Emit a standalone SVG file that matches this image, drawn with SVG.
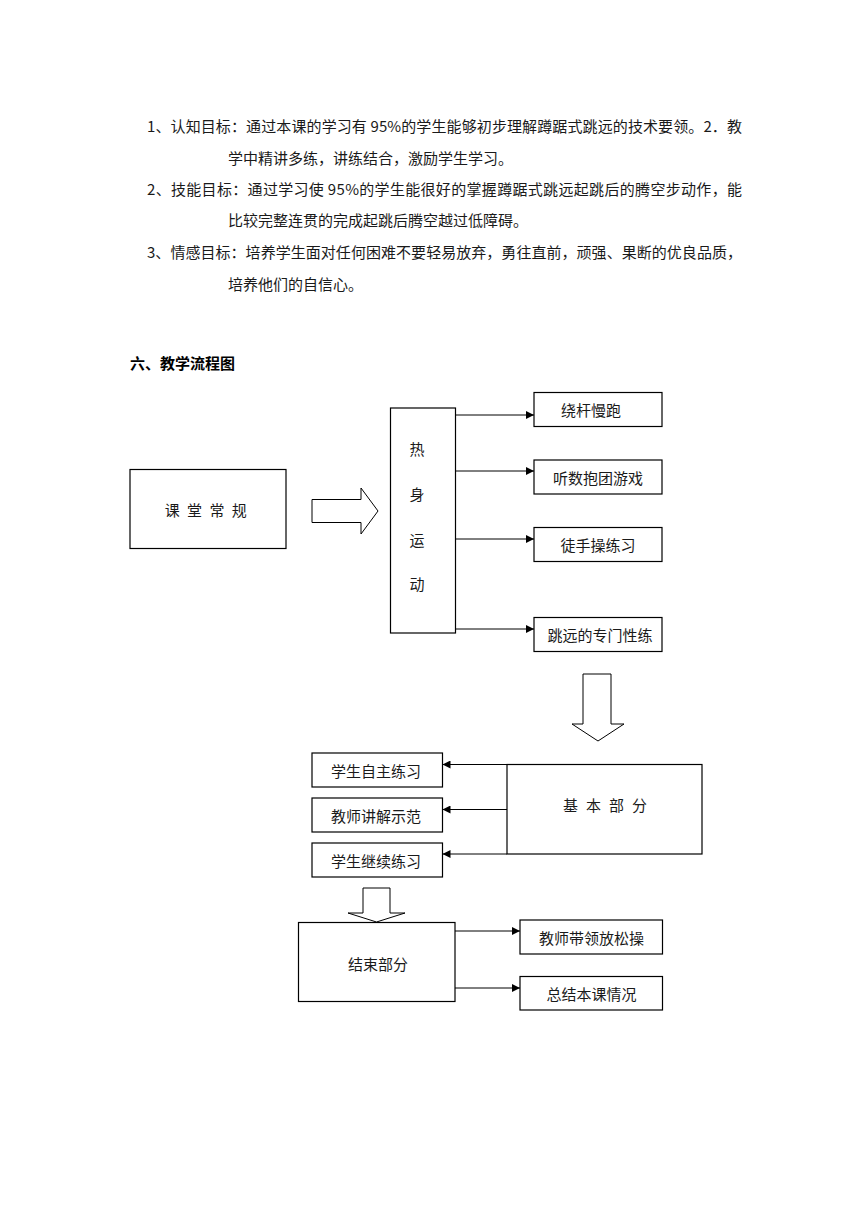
<svg xmlns="http://www.w3.org/2000/svg" width="860" height="1216" viewBox="0 0 860 1216">
<style>
  .t { font-family: "Noto Sans CJK SC", "Liberation Serif", sans-serif; font-size: 15px; fill: #1a1a1a; }
  .c { text-anchor: middle; dominant-baseline: central; }
  .h { font-weight: bold; fill: #000; }
  .box { fill: #fff; stroke: #000; stroke-width: 1.2; }
  .blk { fill: #fff; stroke: #000; stroke-width: 1; }
  .ln { stroke: #000; stroke-width: 1; fill: none; }
</style>
<defs>
  <marker id="ah" viewBox="0 0 10 10" refX="10" refY="5" markerWidth="8" markerHeight="8" markerUnits="userSpaceOnUse" orient="auto">
    <path d="M0,0 L10,5 L0,10 Z" fill="#000"/>
  </marker>
</defs>
<rect width="860" height="1216" fill="#fff"/>

<g id="objectives">
  <text class="t" x="147" y="125" dominant-baseline="central" textLength="595" lengthAdjust="spacing">1、认知目标：通过本课的学习有 95%的学生能够初步理解蹲踞式跳远的技术要领。2．教</text>
  <text class="t" x="228" y="157" dominant-baseline="central">学中精讲多练，讲练结合，激励学生学习。</text>
  <text class="t" x="147" y="188" dominant-baseline="central" textLength="595" lengthAdjust="spacing">2、技能目标：通过学习使 95%的学生能很好的掌握蹲踞式跳远起跳后的腾空步动作，能</text>
  <text class="t" x="228" y="219" dominant-baseline="central">比较完整连贯的完成起跳后腾空越过低障碍。</text>
  <text class="t" x="147" y="251" dominant-baseline="central" textLength="595" lengthAdjust="spacing">3、情感目标：培养学生面对任何困难不要轻易放弃，勇往直前，顽强、果断的优良品质，</text>
  <text class="t" x="228" y="283" dominant-baseline="central">培养他们的自信心。</text>
</g>

<text class="t h" x="130" y="362" dominant-baseline="central">六、教学流程图</text>

<g id="connectors">
  <polygon class="blk" points="312,499.5 361,499.5 361,488 378,511 361,534 361,522.5 312,522.5"/>
  <line class="ln" x1="456" y1="415" x2="534" y2="415" marker-end="url(#ah)"/>
  <line class="ln" x1="456" y1="471" x2="534" y2="471" marker-end="url(#ah)"/>
  <line class="ln" x1="456" y1="539" x2="534" y2="539" marker-end="url(#ah)"/>
  <line class="ln" x1="456" y1="629" x2="534" y2="629" marker-end="url(#ah)"/>
  <polygon class="blk" points="583,674 611,674 611,724 624,724 598,741 572,724 583,724"/>
  <line class="ln" x1="507" y1="764.5" x2="442.5" y2="764.5" marker-end="url(#ah)"/>
  <line class="ln" x1="507" y1="809.5" x2="442.5" y2="809.5" marker-end="url(#ah)"/>
  <line class="ln" x1="507" y1="854" x2="442.5" y2="854" marker-end="url(#ah)"/>
  <polygon class="blk" points="363,888 390,888 390,913 405,913 376.5,922 348,913 363,913"/>
  <line class="ln" x1="455" y1="931" x2="520" y2="931" marker-end="url(#ah)"/>
  <line class="ln" x1="455" y1="988" x2="520" y2="988" marker-end="url(#ah)"/>
</g>

<g id="n-ketang">
  <rect class="box" x="130" y="469.5" width="156" height="79"/>
  <text class="t c" x="172.3 194.6 216.9 239.2" y="509">课堂常规</text>
</g>
<g id="n-reshen">
  <rect class="box" x="390.5" y="408" width="65" height="225"/>
  <text class="t c" x="417" y="448">热</text>
  <text class="t c" x="417" y="493">身</text>
  <text class="t c" x="417" y="539">运</text>
  <text class="t c" x="417" y="583">动</text>
</g>
<g id="n-raogan">
  <rect class="box" x="534" y="392.5" width="128" height="34"/>
  <text class="t c" x="591" y="409.5">绕杆慢跑</text>
</g>
<g id="n-tingshu">
  <rect class="box" x="534" y="460" width="128" height="34"/>
  <text class="t c" x="598" y="477">听数抱团游戏</text>
</g>
<g id="n-tushou">
  <rect class="box" x="534" y="527.5" width="128" height="34"/>
  <text class="t c" x="598" y="544.5">徒手操练习</text>
</g>
<g id="n-tiaoyuan">
  <rect class="box" x="534" y="617.5" width="128" height="34"/>
  <text class="t c" x="600" y="634.5">跳远的专门性练</text>
</g>
<g id="n-jiben">
  <rect class="box" x="507" y="764.5" width="195" height="89.5"/>
  <text class="t c" x="570.5 593.5 616.5 639.5" y="804">基本部分</text>
</g>
<g id="n-zizhu">
  <rect class="box" x="312" y="753" width="130.5" height="34"/>
  <text class="t c" x="376" y="770">学生自主练习</text>
</g>
<g id="n-jiangjie">
  <rect class="box" x="312" y="798" width="130.5" height="34"/>
  <text class="t c" x="376" y="815">教师讲解示范</text>
</g>
<g id="n-jixu">
  <rect class="box" x="312" y="843" width="130.5" height="34"/>
  <text class="t c" x="376" y="860">学生继续练习</text>
</g>
<g id="n-jieshu">
  <rect class="box" x="298.5" y="922.5" width="156.5" height="79"/>
  <text class="t c" x="378" y="963">结束部分</text>
</g>
<g id="n-fangsong">
  <rect class="box" x="520" y="920" width="142.5" height="34"/>
  <text class="t c" x="591.5" y="937">教师带领放松操</text>
</g>
<g id="n-zongjie">
  <rect class="box" x="520" y="976.5" width="142.5" height="33.5"/>
  <text class="t c" x="591.5" y="993.5">总结本课情况</text>
</g>
</svg>
